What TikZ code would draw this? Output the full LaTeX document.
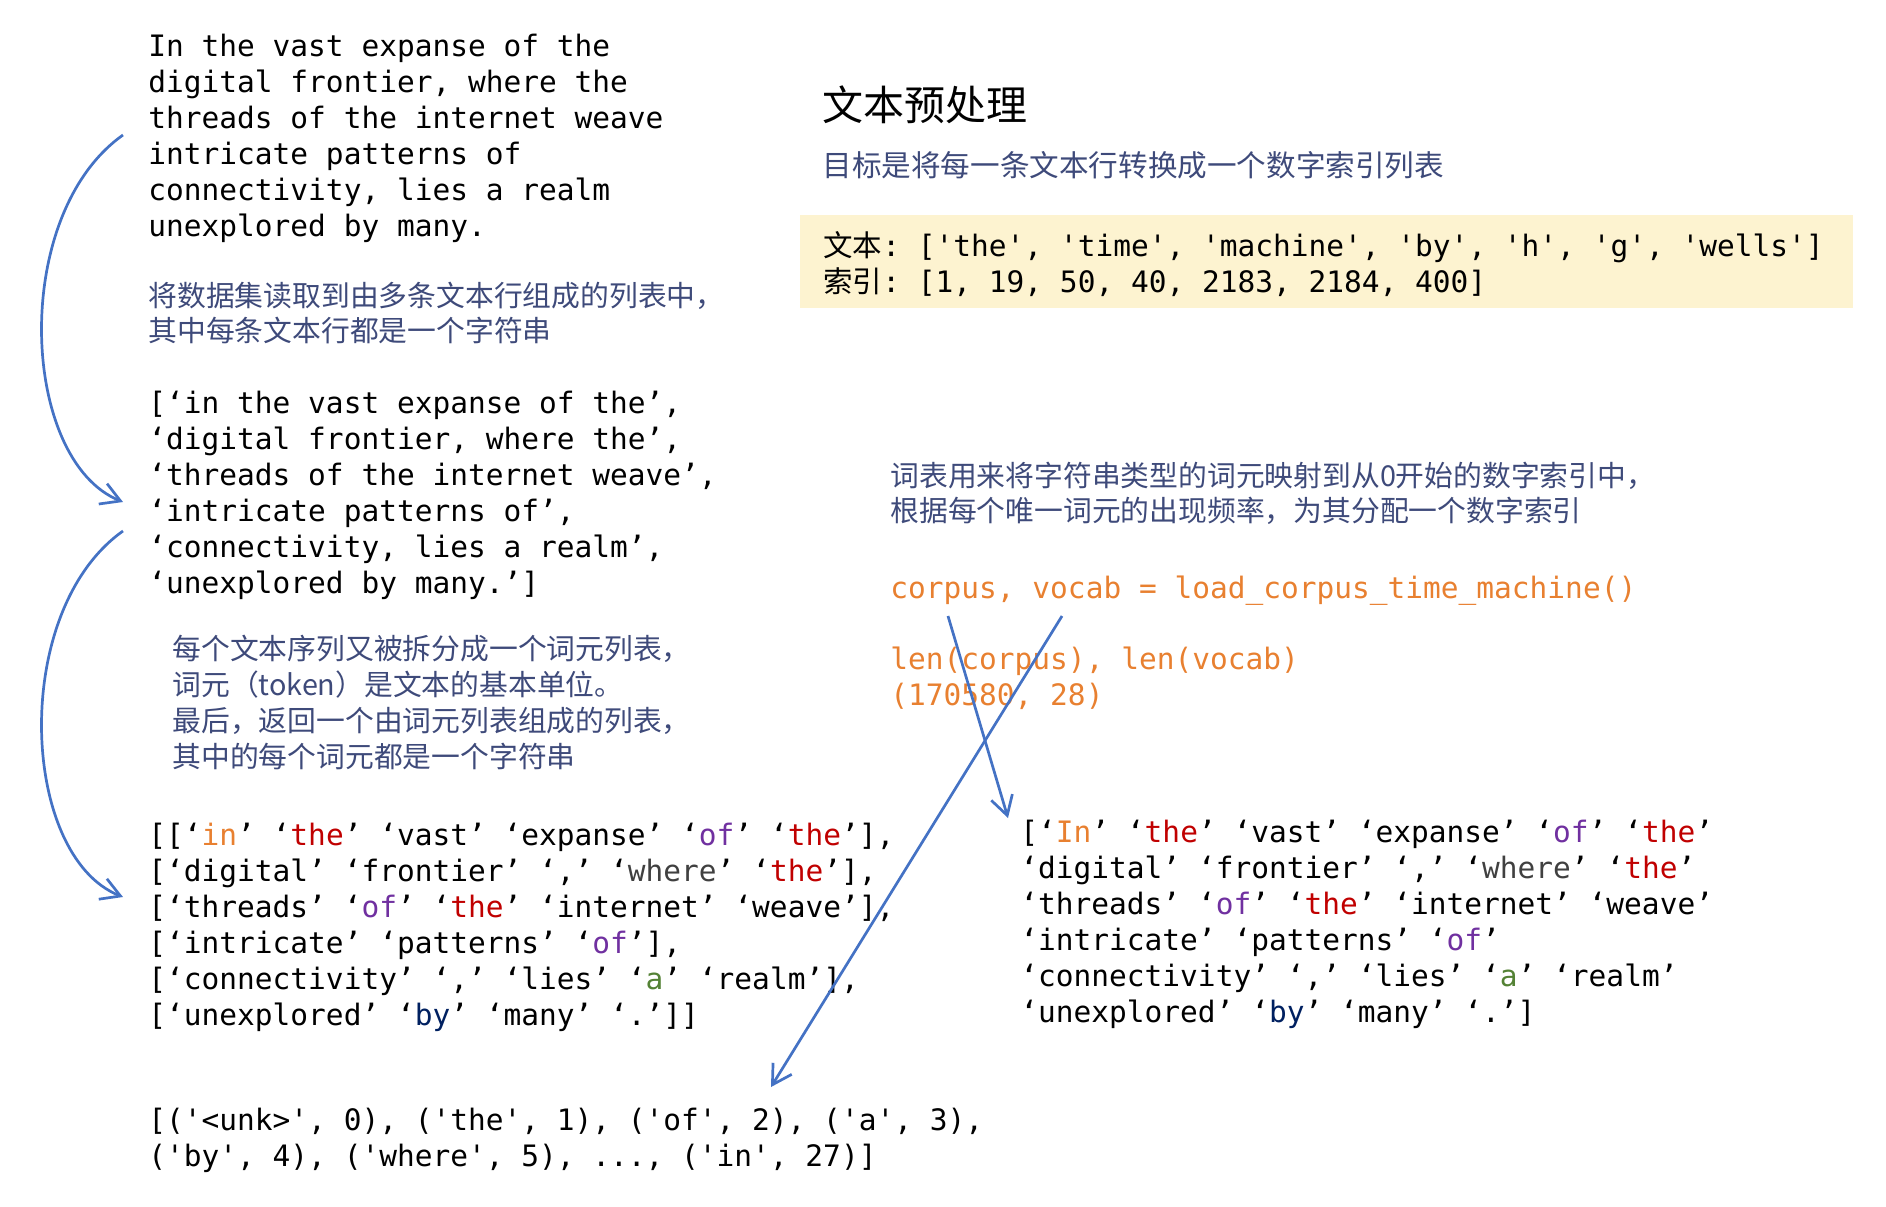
\documentclass[tikz,border=0pt]{standalone}
\usepackage{fontspec}
\setmonofont{DejaVu Sans Mono}
\newfontfamily\cjk{Noto Sans CJK SC}
\usetikzlibrary{arrows.meta}
\definecolor{txtblue}{RGB}{62,74,122}
\definecolor{arrblue}{RGB}{68,114,196}
\definecolor{corange}{RGB}{232,128,48}
\definecolor{cred}{RGB}{192,0,0}
\definecolor{cpurple}{RGB}{112,48,160}
\definecolor{cgray}{RGB}{64,64,64}
\definecolor{cgreen}{RGB}{84,130,53}
\definecolor{cnavy}{RGB}{0,32,96}
\definecolor{boxyellow}{RGB}{253,243,208}
\newcommand\mylb{\\\relax}
\newcommand\tstrut{\rule{0pt}{14pt}}
\newcommand\tok[2]{‘\textcolor{#1}{#2}’}
\begin{document}
\begin{tikzpicture}[x=0.5pt,y=-0.5pt,
  mono/.style={font=\fontsize{14.75pt}{18pt}\selectfont\ttfamily, align=left, anchor=north west, inner sep=0pt},
  monoline/.style={font=\fontsize{14.75pt}{18pt}\selectfont\ttfamily, anchor=base west, inner sep=0pt},
  cn/.style={font=\fontsize{14.4pt}{17.75pt}\selectfont\cjk, text=txtblue, align=left, anchor=north west, inner sep=0pt},
  arr/.style={draw=arrblue, line width=1.35pt, -{Straight Barb[length=9.5pt,width=11pt]}}]
\useasboundingbox (0,0) rectangle (1886,1206);

% left column
\node[mono] (para) at (148,28) {\tstrut In the vast expanse of the\mylb
digital frontier, where the\mylb
threads of the internet weave\mylb
intricate patterns of\mylb
connectivity, lies a realm\mylb
unexplored by many.};

\node[cn] (read) at (148,278) {\tstrut 将数据集读取到由多条文本行组成的列表中，\mylb
其中每条文本行都是一个字符串};

\node[mono] (lines) at (148,385) {\tstrut [‘in the vast expanse of the’,\mylb
‘digital frontier, where the’,\mylb
‘threads of the internet weave’,\mylb
‘intricate patterns of’,\mylb
‘connectivity, lies a realm’,\mylb
‘unexplored by many.’]};

\node[cn, font=\fontsize{14.4pt}{18pt}\selectfont\cjk] (split) at (172,631) {\tstrut 每个文本序列又被拆分成一个词元列表，\mylb
词元（token）是文本的基本单位。\mylb
最后，返回一个由词元列表组成的列表，\mylb
其中的每个词元都是一个字符串};

\node[mono] (tokens) at (148,817) {\tstrut [[\tok{corange}{in} \tok{cred}{the} ‘vast’ ‘expanse’ \tok{cpurple}{of} \tok{cred}{the}],\mylb
[‘digital’ ‘frontier’ ‘,’ \tok{cgray}{where} \tok{cred}{the}],\mylb
[‘threads’ \tok{cpurple}{of} \tok{cred}{the} ‘internet’ ‘weave’],\mylb
[‘intricate’ ‘patterns’ \tok{cpurple}{of}],\mylb
[‘connectivity’ ‘,’ ‘lies’ \tok{cgreen}{a} ‘realm’],\mylb
[‘unexplored’ \tok{cnavy}{by} ‘many’ ‘.’]]};

\node[mono] (vocablist) at (148,1102) {\tstrut [('<unk>', 0), ('the', 1), ('of', 2), ('a', 3),\mylb
('by', 4), ('where', 5), ..., ('in', 27)]};

% right column
\node[anchor=base west, inner sep=0pt, font=\fontsize{20.5pt}{24pt}\selectfont\cjk] (title) at (822,120) {文本预处理};
\node[anchor=base west, inner sep=0pt, text=txtblue, font=\fontsize{14.8pt}{18pt}\selectfont\cjk] (goal) at (822,176) {目标是将每一条文本行转换成一个数字索引列表};

\node[fill=boxyellow, draw=none, anchor=north west, minimum width=526.5pt, minimum height=46.5pt, inner sep=0pt] (box) at (800,215) {};
\node[mono] (example) at (823,228) {\tstrut{\cjk 文本}: ['the', 'time', 'machine', 'by', 'h', 'g', 'wells']\mylb
{\cjk 索引}: [1, 19, 50, 40, 2183, 2184, 400]};

\node[cn] (vocabdesc) at (890,458) {\tstrut 词表用来将字符串类型的词元映射到从0开始的数字索引中，\mylb
根据每个唯一词元的出现频率，为其分配一个数字索引};

\node[monoline, text=corange] (load) at (890,598) {corpus, vocab = load\_corpus\_time\_machine()};
\node[mono, text=corange] (lens) at (890,641) {\tstrut len(corpus), len(vocab)\mylb
(170580, 28)};

\node[mono] (tokens2) at (1020,814) {\tstrut [\tok{corange}{In} \tok{cred}{the} ‘vast’ ‘expanse’ \tok{cpurple}{of} \tok{cred}{the}\mylb
‘digital’ ‘frontier’ ‘,’ \tok{cgray}{where} \tok{cred}{the}\mylb
‘threads’ \tok{cpurple}{of} \tok{cred}{the} ‘internet’ ‘weave’\mylb
‘intricate’ ‘patterns’ \tok{cpurple}{of}\mylb
‘connectivity’ ‘,’ ‘lies’ \tok{cgreen}{a} ‘realm’\mylb
‘unexplored’ \tok{cnavy}{by} ‘many’ ‘.’]};

% connectors
\coordinate (a1s) at (123,135);
\coordinate (a1e) at (123,502);
\coordinate (a2s) at (123,531);
\coordinate (a2e) at (123,897);
\coordinate (a3s) at (948,616);
\coordinate (a3e) at (1008,818);
\coordinate (a4s) at (1062,616);
\coordinate (a4e) at (771,1087);
\draw[arr] (a1s) .. controls (10,215) and (20,460) .. (a1e);
\draw[arr] (a2s) .. controls (10,611) and (20,856) .. (a2e);
\draw[arr] (a3s) -- (a3e);
\draw[arr] (a4s) -- (a4e);
\end{tikzpicture}
\end{document}
